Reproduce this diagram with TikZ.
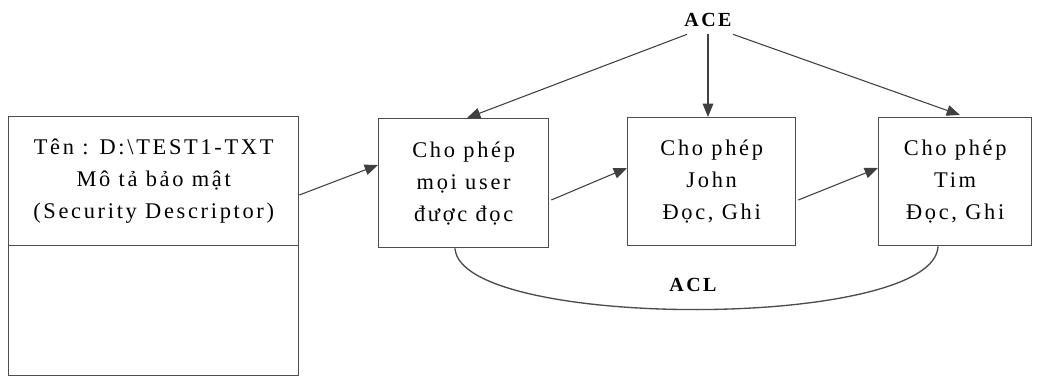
\documentclass[tikz,border=0pt]{standalone}
\usepackage{fontspec}
\setmainfont{Liberation Serif}
\newfontfamily\vnfont[LetterSpace=12]{Liberation Serif}
\usetikzlibrary{arrows.meta,calc}
\begin{document}
\begin{tikzpicture}[x=0.75pt,y=-0.75pt,
  line/.style={draw=black!70, line width=1pt},
  box/.style={line, rectangle, inner sep=0pt, align=center, anchor=north west,
    font=\vnfont\fontsize{16.8}{24}\selectfont},
  arr/.style={draw=black!75, line width=0.8pt, -{Triangle[length=10pt,width=8pt]}},
  lbl/.style={inner sep=1pt, font=\vnfont\bfseries\fontsize{15}{17}\selectfont}]
\useasboundingbox (0,0) rectangle (1037,377);
\fill[white] (0,0) rectangle (1037,377);

\node[box, minimum width=217.5pt, minimum height=96.75pt] (sd) at (8,116)
  {Tên : D:\textbackslash TEST1-TXT\\Mô tả bảo mật\\(Security Descriptor)};
\node[box, minimum width=217.5pt, minimum height=97.5pt] (sdlow) at (8,245) {};

\node[box, minimum width=127.5pt, minimum height=96.75pt] (b1) at (378,118)
  {Cho phép\\mọi user\\được đọc};
\node[box, minimum width=126pt, minimum height=96pt] (b2) at (627,117)
  {Cho phép\\John\\Đọc, Ghi};
\node[box, minimum width=114.75pt, minimum height=96pt] (b3) at (878,117)
  {Cho phép\\Tim\\Đọc, Ghi};

\node[lbl] (ace) at (708,20) {ACE};
\node[lbl] (acl) at (693,285) {ACL};

\coordinate (s1) at ($(ace.south)+(-21,6)$);
\coordinate (s2) at ($(ace.south)+(0,6)$);
\coordinate (s3) at ($(ace.south)+(25,6)$);
\draw[arr] (s1) -- ($(b1.north west)+(89,0)$);
\draw[arr] (s2) -- ($(b2.north west)+(81,0)$);
\draw[arr] (s3) -- ($(b3.north west)+(82,-2)$);

\draw[arr] ($(sd.north east)+(0,79)$) -- ($(b1.north west)+(0,47)$);
\draw[arr] ($(b1.north east)+(2,82)$) -- ($(b2.north west)+(0,51)$);
\draw[arr] ($(b2.north east)+(2,83)$) -- ($(b3.north west)+(0,51)$);

\coordinate (c1) at ($(b1.south west)+(77,0)$);
\coordinate (c2) at ($(b3.south west)+(60,0)$);
\draw[line] (c1) .. controls ($(c1)+(5,82)$) and ($(c2)+(-3,84)$) .. (c2);
\end{tikzpicture}
\end{document}
